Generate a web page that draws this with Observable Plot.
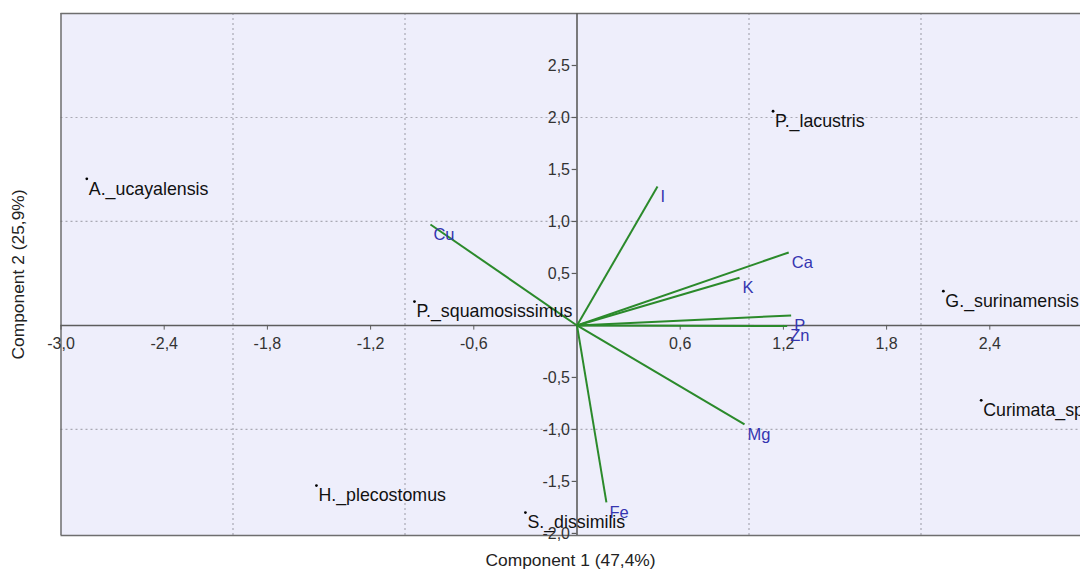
<!DOCTYPE html>
<html>
<head>
<meta charset="utf-8">
<script src="https://cdn.jsdelivr.net/npm/d3@7"></script>
<script src="https://cdn.jsdelivr.net/npm/@observablehq/plot@0.6"></script>
<style>
  html, body { margin: 0; padding: 0; background: #ffffff; overflow: hidden; }
  #chart svg { overflow: hidden; display: block; }
</style>
</head>
<body>
<div id="chart"></div>
<script>
// Species scores (component 1, component 2)
const species  = ["A._ucayalensis", "P._lacustris", "P._squamosissimus", "G._surinamensis", "Curimata_sp", "H._plecostomus", "S._dissimilis"];
const speciesX = [-2.85, 1.14, -0.945, 2.13, 2.35, -1.515, -0.30];
const speciesY = [1.41, 2.06, 0.23, 0.33, -0.72, -1.54, -1.80];

// Variable loadings (biplot vectors)
const variables = ["I", "Ca", "K", "P", "Zn", "Mg", "Fe", "Cu"];
const loadX = [0.468, 1.231, 0.945, 1.245, 1.222, 0.974, 0.171, -0.852];
const loadY = [1.337, 0.702, 0.459, 0.096, -0.006, -0.952, -1.702, 0.971];

// Axes
const xTicks = [-3.0, -2.4, -1.8, -1.2, -0.6, 0.6, 1.2, 1.8, 2.4];
const yTicks = [2.5, 2.0, 1.5, 1.0, 0.5, -0.5, -1.0, -1.5, -2.0];
const xGrid = [-2, -1, 1, 2];
const yGrid = [-1, 1, 2];
const xTitle = "Component 1 (47,4%)";
const yTitle = "Component 2 (25,9%)";

const fmt = d => d.toFixed(1).replace(".", ",");
const FONT = "Liberation Sans, Arial, sans-serif";

const speciesData = species.map((name, i) => ({name, x: speciesX[i], y: speciesY[i]}));
const loadData = variables.map((name, i) => ({name, x: loadX[i], y: loadY[i]}));

const xDomain = [-3, 3];
const yDomain = [-2.02, 3.0];

const chart = Plot.plot({
  width: 1080,
  height: 576,
  marginLeft: 60,
  marginTop: 13,
  marginBottom: 41,
  marginRight: 0,
  style: {fontFamily: FONT, background: "#ffffff", overflow: "hidden"},
  x: {domain: xDomain, range: [60.5, 1092.5], axis: null},
  y: {domain: yDomain, range: [535, 13], axis: null},
  marks: [
    // plot background
    Plot.rect([0], {x1: xDomain[0], x2: xDomain[1], y1: yDomain[0], y2: yDomain[1], fill: "#eeeefb"}),
    // dotted grid
    Plot.ruleX(xGrid, {y1: yDomain[0], y2: yDomain[1], stroke: "#a9a9b4", strokeWidth: 1.2, strokeDasharray: "2,3"}),
    Plot.ruleY(yGrid, {x1: xDomain[0], x2: xDomain[1], stroke: "#a9a9b4", strokeWidth: 1.2, strokeDasharray: "2,3"}),
    // frame (left, top, bottom; right side is outside view)
    Plot.ruleX([xDomain[0]], {y1: yDomain[0], y2: yDomain[1], stroke: "#6e6e6e", strokeWidth: 1.5}),
    Plot.ruleY([yDomain[0], yDomain[1]], {x1: xDomain[0], x2: xDomain[1], stroke: "#6e6e6e", strokeWidth: 1.5}),
    // zero axes
    Plot.ruleY([0], {x1: xDomain[0], x2: xDomain[1], stroke: "#5c5c5c", strokeWidth: 1.6}),
    Plot.ruleX([0], {y1: yDomain[0], y2: yDomain[1], stroke: "#5c5c5c", strokeWidth: 1.6}),
    // ticks
    Plot.ruleX(xTicks, {y1: 0, y2: -0.045, stroke: "#5c5c5c", strokeWidth: 1}),
    Plot.ruleY(yTicks, {x1: 0, x2: -0.028, stroke: "#5c5c5c", strokeWidth: 1.2}),
    Plot.text(xTicks, {x: d => d, y: 0, text: fmt, dy: 18, fontSize: 16, fill: "#333", textAnchor: "middle"}),
    Plot.text(yTicks, {x: 0, y: d => d, text: fmt, dx: -7, fontSize: 16, fill: "#333", textAnchor: "end"}),
    // loading vectors
    Plot.link(loadData, {x1: 0, y1: 0, x2: "x", y2: "y", stroke: "#2b8a2b", strokeWidth: 2}),
    Plot.text(loadData, {x: "x", y: "y", text: "name", dx: 3, dy: 10, textAnchor: "start", fill: "#3535b0", fontSize: 16.5}),
    // species
    Plot.dot(speciesData, {x: "x", y: "y", r: 1.4, fill: "#000"}),
    Plot.text(speciesData, {x: "x", y: "y", text: "name", dx: 2, dy: 10, textAnchor: "start", fill: "#111", fontSize: 17.8}),
    // axis titles
    Plot.text([xTitle], {frameAnchor: "bottom", dy: 30, fontSize: 17.4, fill: "#222", textAnchor: "middle"}),
    Plot.text([yTitle], {frameAnchor: "left", dx: -42, rotate: -90, fontSize: 17.4, fill: "#222", textAnchor: "middle"})
  ]
});

document.getElementById("chart").appendChild(chart);
</script>
</body>
</html>
